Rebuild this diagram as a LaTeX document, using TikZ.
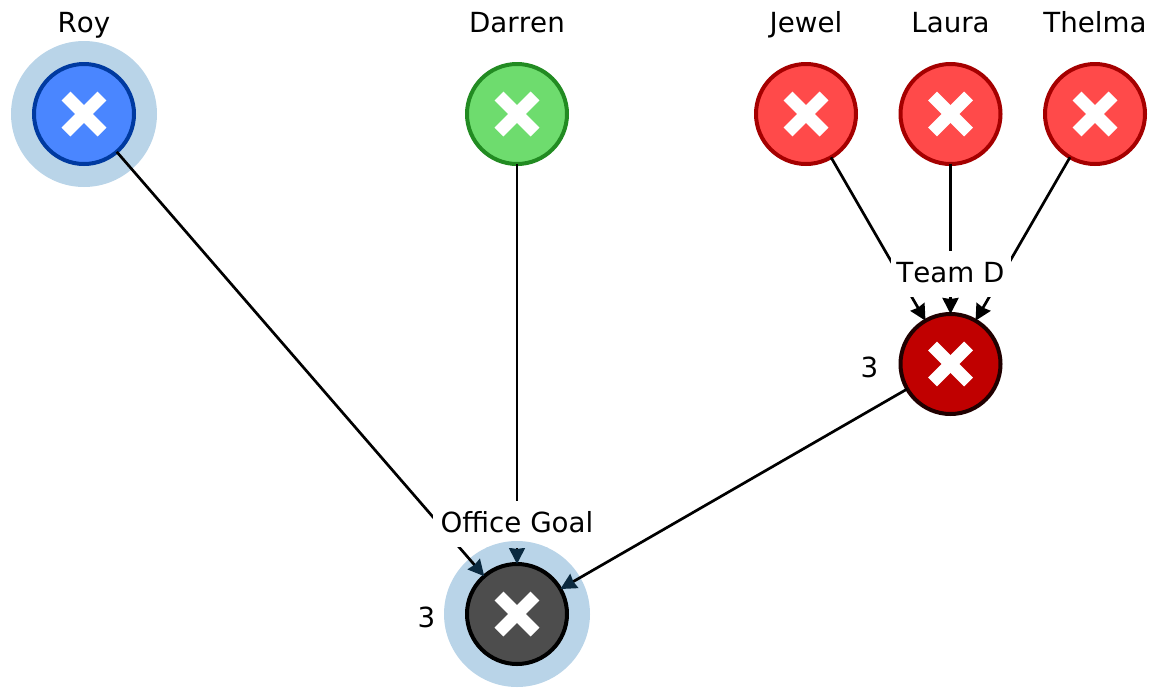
\documentclass[tikz,border=0pt]{standalone}
\usepackage{fontspec}
\setmainfont[Kerning=Off]{DejaVu Sans}
\usetikzlibrary{arrows.meta}
\definecolor{halo}{HTML}{B9D4E8}
\definecolor{tipnavy}{HTML}{0B2A40}
\definecolor{bluefill}{HTML}{4A86FF}
\definecolor{blueline}{HTML}{003AA0}
\definecolor{greenfill}{HTML}{6EDC6E}
\definecolor{greenline}{HTML}{228B22}
\definecolor{redfill}{HTML}{FF4A4A}
\definecolor{redline}{HTML}{A50000}
\definecolor{teamfill}{HTML}{C00000}
\definecolor{teamline}{HTML}{200000}
\definecolor{goalfill}{HTML}{4D4D4D}
\tikzset{
  person/.style={circle,draw=#1,line width=4pt,minimum size=100pt,inner sep=0pt,outer sep=0pt,
    path picture={
      \draw[white,line width=12.5pt] ([shift={(-18pt,-18pt)}]path picture bounding box.center) -- ([shift={(18pt,18pt)}]path picture bounding box.center);
      \draw[white,line width=12.5pt] ([shift={(-18pt,18pt)}]path picture bounding box.center) -- ([shift={(18pt,-18pt)}]path picture bounding box.center);
    }},
  haloring/.style={circle,fill=halo,minimum size=146pt,inner sep=0pt,outer sep=0pt},
  txt/.style={font=\fontsize{27.7pt}{30pt}\selectfont,inner sep=0pt,text height=20pt,text depth=4pt},
  gaplabel/.style={txt,fill=white,minimum height=46pt,minimum width=#1,align=center},
  edge/.style={line width=2.7pt,black},
  toteam/.style={edge,-{Stealth[length=16pt,width=16pt,inset=1pt,black]}},
  togoal/.style={edge,-{Stealth[length=16pt,width=16pt,inset=1pt,tipnavy]}},
}
\begin{document}
\begin{tikzpicture}[x=1pt,y=-1pt]
\useasboundingbox (0,0) rectangle (1157,697);
\node[haloring] (royhalo) at (84,114) {};
\node[haloring] (goalhalo) at (517,614) {};
\node[person=blueline,fill=bluefill] (roy) at (84,114) {};
\node[person=greenline,fill=greenfill] (darren) at (517,114) {};
\node[person=redline,fill=redfill] (jewel) at (806,114) {};
\node[person=redline,fill=redfill] (laura) at (950.5,114) {};
\node[person=redline,fill=redfill] (thelma) at (1095,114) {};
\node[person=teamline,fill=teamfill] (team) at (950.5,364) {};
\node[person=black,fill=goalfill] (goal) at (517,614) {};
\draw[toteam] (jewel) -- (team);
\draw[toteam] (laura) -- (team);
\draw[toteam] (thelma) -- (team);
\draw[togoal] (roy) -- (goal);
\draw[togoal] (darren) -- (goal);
\draw[togoal] (team) -- (goal);
\node[gaplabel=120pt] (teamlabel) at (950.5,274) {Team D};
\node[gaplabel=168pt] (goallabel) at (517,524) {Office Goal};
\begin{scope}
  \clip (goallabel.south west) rectangle (goallabel.north east);
  \fill[halo] (goalhalo) circle[radius=73pt];
\end{scope}
\node[txt] (royname) at (84,24) {Roy};
\node[txt] (darrenname) at (517,24) {Darren};
\node[txt] (jewelname) at (806,24) {Jewel};
\node[txt] (lauraname) at (950.5,24) {Laura};
\node[txt] (thelmaname) at (1095,24) {Thelma};
\node[txt] (teamcount) at (869.5,369) {3};
\node[txt] (goalcount) at (426.5,619) {3};
\end{tikzpicture}
\end{document}
